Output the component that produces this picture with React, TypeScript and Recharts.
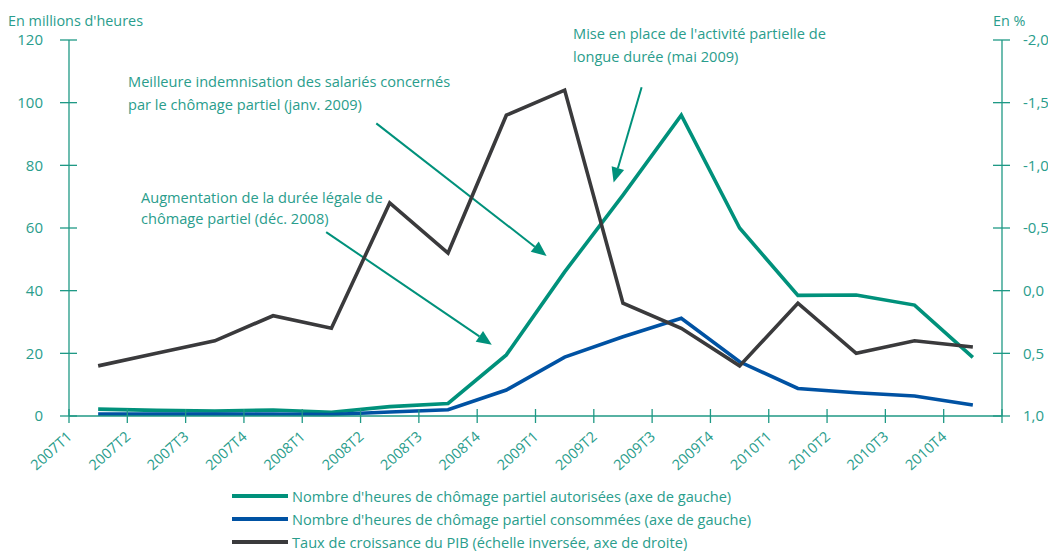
import React from "react";
import { LineChart, Line, XAxis, YAxis, ReferenceLine } from "recharts";

const quarters = [
  "2007T1", "2007T2", "2007T3", "2007T4",
  "2008T1", "2008T2", "2008T3", "2008T4",
  "2009T1", "2009T2", "2009T3", "2009T4",
  "2010T1", "2010T2", "2010T3", "2010T4",
];
// millions d'heures (axe de gauche)
const authorised = [2.2, 1.8, 1.6, 1.9, 1.2, 3.0, 4.0, 19.5, 46, 70.5, 96, 60, 38.5, 38.6, 35.4, 18.7];
const consumed = [0.6, 0.6, 0.6, 0.6, 0.5, 1.3, 2.0, 8.3, 18.8, 25.3, 31.2, 17.3, 8.8, 7.4, 6.4, 3.5];
// % (axe de droite, inversé)
const gdpGrowth = [0.6, 0.5, 0.4, 0.2, 0.3, -0.7, -0.3, -1.4, -1.6, 0.1, 0.3, 0.6, 0.1, 0.5, 0.4, 0.45];

const leftTicks = [0, 20, 40, 60, 80, 100, 120];
const rightTicks = [-2, -1.5, -1, -0.5, 0, 0.5, 1];
const xTicks = quarters.map((_, i) => i).concat([quarters.length]);

const seriesNames = [
  "Nombre d'heures de chômage partiel autorisées (axe de gauche)",
  "Nombre d'heures de chômage partiel consommées (axe de gauche)",
  "Taux de croissance du PIB (échelle inversée, axe de droite)",
];

const GREEN = "#00917b";
const BLUE = "#0052a3";
const GREY = "#3a3a3c";
const TEAL = "#2a9d8c";
const AXIS = "#1f9985";

const data = quarters.map((q, i) => ({
  x: i + 0.5,
  q,
  authorised: authorised[i],
  consumed: consumed[i],
  gdp: gdpGrowth[i],
}));

const arrows = [
  { from: { x: 4.41, y: 58.7 }, to: { x: 7.25, y: 22.7 } },
  { from: { x: 5.27, y: 93.4 }, to: { x: 8.19, y: 51.1 } },
  { from: { x: 9.82, y: 104.9 }, to: { x: 9.34, y: 74.5 } },
];

const fmtPct = (v: number) => v.toFixed(1).replace(".", ",");

function Arrow(props: any) {
  const { x1, y1, x2, y2 } = props;
  const ang = Math.atan2(y2 - y1, x2 - x1);
  const len = 15;
  const half = 6.5;
  const bx = x2 - len * Math.cos(ang);
  const by = y2 - len * Math.sin(ang);
  const px = -Math.sin(ang) * half;
  const py = Math.cos(ang) * half;
  return (
    <g>
      <line x1={x1} y1={y1} x2={bx} y2={by} stroke={GREEN} strokeWidth={2} />
      <polygon points={`${x2},${y2} ${bx + px},${by + py} ${bx - px},${by - py}`} fill={GREEN} />
    </g>
  );
}

function LeftTick(props: any) {
  const { x, y, payload } = props;
  const ax = x + 26;
  return (
    <g>
      <line x1={ax - 9} x2={ax + 8} y1={y} y2={y} stroke={AXIS} strokeWidth={1.3} />
      <text x={x} y={y} dy="0.36em" textAnchor="end" fill={TEAL} fontSize={15}>
        {payload.value}
      </text>
    </g>
  );
}

function RightTick(props: any) {
  const { x, y, payload } = props;
  const ax = x - 21;
  return (
    <g>
      <line x1={ax - 9} x2={ax + 8} y1={y} y2={y} stroke={AXIS} strokeWidth={1.3} />
      <text x={x} y={y} dy="0.36em" textAnchor="start" fill={TEAL} fontSize={15}>
        {fmtPct(payload.value)}
      </text>
    </g>
  );
}

function BottomTick(props: any) {
  const { x, y, payload } = props;
  const ay = y - 7;
  const label = quarters[payload.value] ?? "";
  const lx = x + 4;
  const ly = ay + 22;
  return (
    <g>
      <line x1={x} x2={x} y1={ay - 7} y2={ay + 7} stroke={AXIS} strokeWidth={1.3} />
      {label && (
        <text x={lx} y={ly} transform={`rotate(-42, ${lx}, ${ly})`} textAnchor="end" fill={TEAL} fontSize={14.5}>
          {label}
        </text>
      )}
    </g>
  );
}

export default function App() {
  const colors = [GREEN, BLUE, GREY];
  return (
    <div style={{ position: "absolute", left: 0, top: 0, width: 1048, height: 551, background: "#fff", fontFamily: "'Open Sans', sans-serif" }}>
      <LineChart width={1048} height={551} data={data} margin={{ top: 40, right: 0, bottom: 65, left: 0 }}>
        <XAxis
          dataKey="x"
          type="number"
          domain={[0, quarters.length]}
          ticks={xTicks}
          interval={0}
          height={70}
          stroke={AXIS}
          strokeWidth={1.3}
          tickLine={false}
          tickSize={7}
          tickMargin={0}
          tick={<BottomTick />}
        />
        <YAxis
          yAxisId="left"
          domain={[0, 120]}
          ticks={leftTicks}
          interval={0}
          width={69}
          stroke={AXIS}
          strokeWidth={1.3}
          tickLine={false}
          tickSize={8}
          tickMargin={18}
          tick={<LeftTick />}
        />
        <YAxis
          yAxisId="right"
          orientation="right"
          domain={[-2, 1]}
          reversed
          ticks={rightTicks}
          interval={0}
          width={46}
          stroke={AXIS}
          strokeWidth={1.3}
          tickLine={false}
          tickSize={8}
          tickMargin={13}
          tick={<RightTick />}
        />
        {arrows.map((a, i) => (
          <ReferenceLine key={i} yAxisId="left" segment={[a.from, a.to]} shape={(p: any) => <Arrow {...p} />} />
        ))}
        <Line yAxisId="left" dataKey="authorised" name={seriesNames[0]} stroke={GREEN} strokeWidth={3.6} dot={false} isAnimationActive={false} strokeLinejoin="miter" />
        <Line yAxisId="left" dataKey="consumed" name={seriesNames[1]} stroke={BLUE} strokeWidth={3.6} dot={false} isAnimationActive={false} strokeLinejoin="miter" />
        <Line yAxisId="right" dataKey="gdp" name={seriesNames[2]} stroke={GREY} strokeWidth={3.6} dot={false} isAnimationActive={false} strokeLinejoin="miter" />
      </LineChart>

      <svg width={1048} height={551} style={{ position: "absolute", left: 0, top: 0, pointerEvents: "none" }}>
        <g fill={TEAL} fontSize={14.4}>
          <text x={8} y={26}>En millions d'heures</text>
          <text x={993} y={26}>En %</text>
        </g>
        <g fill={TEAL} fontSize={14.6}>
          <text x={128} y={87}>Meilleure indemnisation des salariés concernés</text>
          <text x={128} y={110}>par le chômage partiel (janv. 2009)</text>
          <text x={141} y={203}>Augmentation de la durée légale de</text>
          <text x={141} y={224}>chômage partiel (déc. 2008)</text>
          <text x={573} y={39}>Mise en place de l'activité partielle de</text>
          <text x={573} y={62}>longue durée (mai 2009)</text>
        </g>
      </svg>

      <div style={{ position: "absolute", left: 232, top: 484 }}>
        {seriesNames.map((n, i) => (
          <div key={n} style={{ display: "flex", alignItems: "center", height: 23 }}>
            <div style={{ width: 56, height: 4, background: colors[i], marginRight: 4 }} />
            <span style={{ color: TEAL, fontSize: 14.6, whiteSpace: "nowrap" }}>{n}</span>
          </div>
        ))}
      </div>
    </div>
  );
}
